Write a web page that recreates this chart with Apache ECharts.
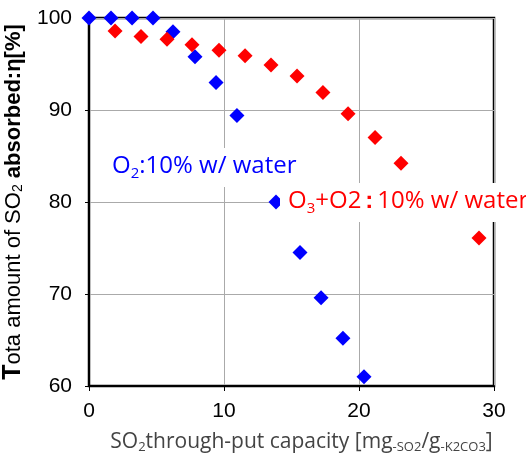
<!DOCTYPE html>
<html>
<head>
<meta charset="utf-8">
<script src="https://cdn.jsdelivr.net/npm/echarts@6/dist/echarts.min.js"></script>
<style>
    html, body { margin: 0; padding: 0; background: #fff; }
    #chart { width: 526px; height: 455px; }
</style>
</head>
<body>
<div id="chart"></div>
<script>
// O2:10% w/ water (blue)
var o2X = [0, 1.63, 3.19, 4.74, 6.22, 7.85, 9.41, 10.96, 13.85, 15.63, 17.19, 18.81, 20.37];
var o2Y = [100, 100, 100, 100, 98.5, 95.8, 93.0, 89.4, 80.0, 74.5, 69.6, 65.2, 61.0];
// O3+O2:10% w/ water (red)
var o3X = [1.93, 3.85, 5.78, 7.63, 9.63, 11.56, 13.48, 15.41, 17.33, 19.19, 21.19, 23.11, 28.89];
var o3Y = [98.6, 98.0, 97.7, 97.1, 96.5, 95.9, 94.9, 93.7, 91.9, 89.6, 87.0, 84.2, 76.1];
var xTicks = [0, 10, 20, 30];
var yTicks = [60, 70, 80, 90, 100];

function pairs(xs, ys) {
    return xs.map(function (x, i) { return [x, ys[i]]; });
}

var chart = echarts.init(document.getElementById('chart'));
var labelFont = '"Open Sans", "Noto Sans", sans-serif';
var arial = '"Liberation Sans", Arial, sans-serif';

chart.setOption({
    backgroundColor: '#fff',
    animation: false,
    grid: {
        left: 89, right: 32, top: 18, bottom: 69,
        outerBoundsMode: 'none',
        containLabel: false,
        show: true, borderColor: '#000', borderWidth: 2.5, backgroundColor: 'transparent'
    },
    xAxis: {
        type: 'value',
        min: xTicks[0], max: xTicks[xTicks.length - 1], interval: 10,
        axisLine: { show: true, lineStyle: { color: '#000', width: 2 } },
        axisTick: { show: true, length: 5, lineStyle: { color: '#000' } },
        axisLabel: { color: '#000', fontSize: 21, margin: 15, fontFamily: arial },
        splitLine: { show: true, lineStyle: { color: '#aaa', width: 1 } },
        name: 'SO{sub|2}through-put capacity [mg{sub|-SO2}/g{sub|-K2CO3}]',
        nameLocation: 'middle',
        nameGap: 44,
        nameTextStyle: {
            color: '#444', fontSize: 21, fontFamily: labelFont, lineHeight: 24,
            padding: [0, 0, 0, 20],
            rich: {
                sub: { fontSize: 13, fontFamily: labelFont, color: '#444', verticalAlign: 'bottom', lineHeight: 14, padding: [6, 0, 0, 0] }
            }
        }
    },
    yAxis: {
        type: 'value',
        min: yTicks[0], max: yTicks[yTicks.length - 1], interval: 10,
        axisLine: { show: true, lineStyle: { color: '#000', width: 2 } },
        axisTick: { show: true, length: 4, lineStyle: { color: '#000' } },
        axisLabel: { color: '#000', fontSize: 21, margin: 17, fontFamily: arial },
        splitLine: { show: true, lineStyle: { color: '#aaa', width: 1 } },
        name: '{big|T}ota amount of SO{sub|2} {bold|absorbed:η[%]}',
        nameLocation: 'middle',
        nameGap: 62,
        nameRotate: 90,
        nameTextStyle: {
            color: '#000', fontSize: 22, fontFamily: arial, lineHeight: 24,
            rich: {
                big: { fontSize: 25, fontWeight: 'bold', color: '#000', fontFamily: arial },
                bold: { fontSize: 22, fontWeight: 'bold', color: '#000', fontFamily: arial },
                sub: { fontSize: 14, color: '#000', fontFamily: arial, verticalAlign: 'bottom', lineHeight: 14, padding: [6, 0, 0, 0] }
            }
        }
    },
    series: [
        {
            name: 'O2:10% w/ water',
            type: 'scatter',
            symbol: 'diamond',
            symbolSize: 15,
            itemStyle: { color: '#0000ff', opacity: 1 },
            data: pairs(o2X, o2Y),
            z: 3
        },
        {
            name: 'O3+O2:10% w/ water',
            type: 'scatter',
            symbol: 'diamond',
            symbolSize: 15,
            itemStyle: { color: '#ff0000', opacity: 1 },
            data: pairs(o3X, o3Y),
            z: 3
        }
    ],
    graphic: [
        {
            type: 'text',
            left: 108, top: 148, z: 100,
            style: {
                text: 'O{sub|2}:10% w/ water',
                fill: '#0000ff',
                font: '24px ' + labelFont,
                backgroundColor: '#fff',
                padding: [3, 4, 6, 4],
                lineHeight: 30,
                rich: {
                    sub: { fill: '#0000ff', fontSize: 15, fontFamily: labelFont, verticalAlign: 'bottom', lineHeight: 16, padding: [8, 0, 0, 0] }
                }
            }
        },
        {
            type: 'text',
            left: 280, top: 183, z: 100,
            style: {
                text: 'O{sub|3}+O2{c|:}10% w/ water',
                fill: '#ff0000',
                font: '24px ' + labelFont,
                backgroundColor: '#fff',
                padding: [3, 10, 6, 8],
                lineHeight: 30,
                rich: {
                    sub: { fill: '#ff0000', fontSize: 15, fontFamily: labelFont, verticalAlign: 'bottom', lineHeight: 16, padding: [8, 0, 0, 0] },
                    c: { fill: '#ff0000', fontSize: 24, fontWeight: 'bold', fontFamily: arial, padding: [0, 4, 0, 4] }
                }
            }
        }
    ]
});
</script>
</body>
</html>
